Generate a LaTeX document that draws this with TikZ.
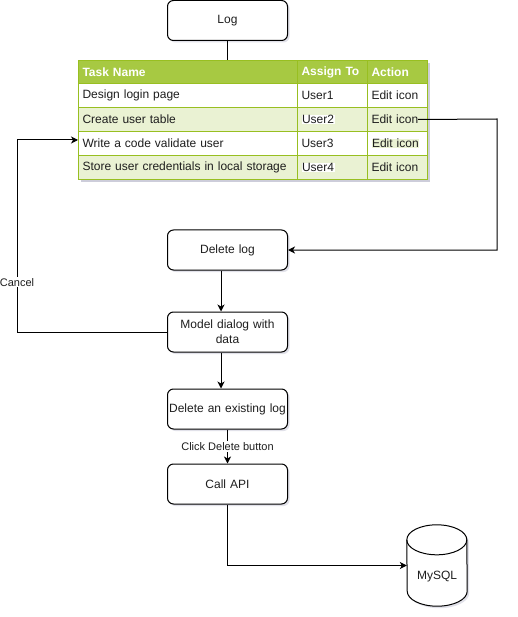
\documentclass[tikz,border=0pt]{standalone}
\usepackage{fontspec}
\setmainfont{Liberation Sans}
\usepackage{tikz}
\usepackage{xcolor}
\usetikzlibrary{shapes.geometric, arrows.meta, shadows, positioning}
\definecolor{loggreen}{RGB}{167, 201, 66}
\definecolor{logborder}{RGB}{152, 191, 33}
\definecolor{logrow}{RGB}{234, 242, 211}
\definecolor{logtext}{RGB}{30, 30, 30}
\definecolor{logshadow}{RGB}{205, 205, 218}
\hyphenpenalty=10000

\newcommand{\hlbox}[2]{{\setlength{\fboxsep}{0.5pt}\colorbox{#1}{#2}}}

\begin{document}
\begin{tikzpicture}[
    x=1pt, y=-1pt,
    process/.style={
        rectangle,
        rounded corners=6pt,
        draw=black,
        line width=1pt,
        fill=white,
        minimum width=120pt,
        minimum height=40pt,
        inner xsep=0.5pt,
        text width=119pt,
        align=center,
        font=\fontsize{12}{15}\selectfont,
        text=logtext,
        drop shadow={shadow xshift=2pt, shadow yshift=-2pt, fill=logshadow, opacity=0.6}
    },
    cell/.style={
        rectangle,
        draw=logborder,
        line width=1pt,
        anchor=north west,
        minimum height=24pt,
        inner xsep=4pt,
        inner ysep=0pt,
        align=left,
        font=\fontsize{12}{14}\selectfont,
        text=logtext
    },
    headcell/.style={
        cell,
        fill=loggreen,
        minimum height=23pt,
        text=white,
        font=\fontsize{12}{14}\selectfont\bfseries
    },
    dbbox/.style={
        rectangle,
        inner sep=0pt,
        minimum width=60pt,
        minimum height=81pt
    },
    dbline/.style={
        draw=black,
        line width=1pt
    },
    edgelabel/.style={
        fill=white,
        inner sep=1pt,
        font=\fontsize{11}{13}\selectfont,
        text=logtext
    },
    arrow/.style={
        -{Stealth[length=7pt, width=7pt, inset=2pt]},
        line width=1pt
    }
]

\useasboundingbox (0,0) rectangle (517,617);

% Log
\node[process] (log) at (227.5,20.5) {Log};

% Table of logs
\fill[logshadow] (81,63) rectangle (430,182);
\node[headcell, text width=211pt] (task0) at (78,60) {Task Name};
\node[headcell, text width=62pt] (user0) at (297,60) {Assign To};
\node[headcell, text width=52pt] (act0) at (367,60) {Action};
\foreach \r/\task/\user/\act/\bg in {
    1/Design login page/User1/Edit icon/white,
    2/Create user table/{\hlbox{white}{User2}}/Edit icon/logrow,
    3/Write a code validate user/User3/{\hlbox{logrow}{Edit icon}}/white,
    4/Store user credentials in local storage/{\hlbox{white}{User4}}/Edit icon/logrow} {
    \node[cell, fill=\bg, text width=211pt] (task\r) at (78,{59+24*\r}) {\task};
    \node[cell, fill=\bg, text width=62pt] (user\r) at (297,{59+24*\r}) {\user};
    \node[cell, fill=\bg, text width=52pt] (act\r) at (367,{59+24*\r}) {\act};
}

% Flow steps
\node[process] (dellog) at (227.5,250) {Delete log};
\node[process] (model) at (227.5,332) {Model dialog with\\data};
\node[process] (delete) at (227.5,409) {Delete an existing log};
\node[process] (api) at (227.5,484) {Call API};

% Database
\node[dbbox] (mysql) at (437,565.5) {};
\filldraw[dbline, fill=white, drop shadow={shadow xshift=2pt, shadow yshift=-2pt, fill=logshadow, opacity=0.6}]
    ([yshift=-15pt]mysql.north west) arc[start angle=180, end angle=360, x radius=30, y radius=15]
    -- ([yshift=15pt]mysql.south east) arc[start angle=0, end angle=180, x radius=30, y radius=15]
    -- cycle;
\draw[dbline] ([yshift=-15pt]mysql.north west) arc[start angle=180, end angle=0, x radius=30, y radius=15];
\node[font=\fontsize{12}{14}\selectfont, text=logtext] (mysqltext) at ([yshift=-11.5pt]mysql.center) {MySQL};

\coordinate (edit) at (497,119);
\coordinate (back) at (17,140);

% Connectors
\draw[line width=1pt] (log.south) -- (log.south |- task0.north);
\draw[arrow] ([xshift=-10pt]act2.east) -- (edit) |- (dellog.east);
\draw[arrow] ([xshift=-6.5pt]dellog.south) -- ([xshift=-6.5pt]model.north);
\draw[arrow] (model.west) -| (back) node[edgelabel, pos=0.63] {Cancel} -- (back -| task3.west);
\draw[arrow] ([xshift=-6.5pt]model.south) -- ([xshift=-6.5pt]delete.north);
\draw[arrow] (delete.south) -- node[edgelabel] {Click Delete button} (api.north);
\draw[arrow] (api.south) |- (mysql.west);

\end{tikzpicture}
\end{document}
